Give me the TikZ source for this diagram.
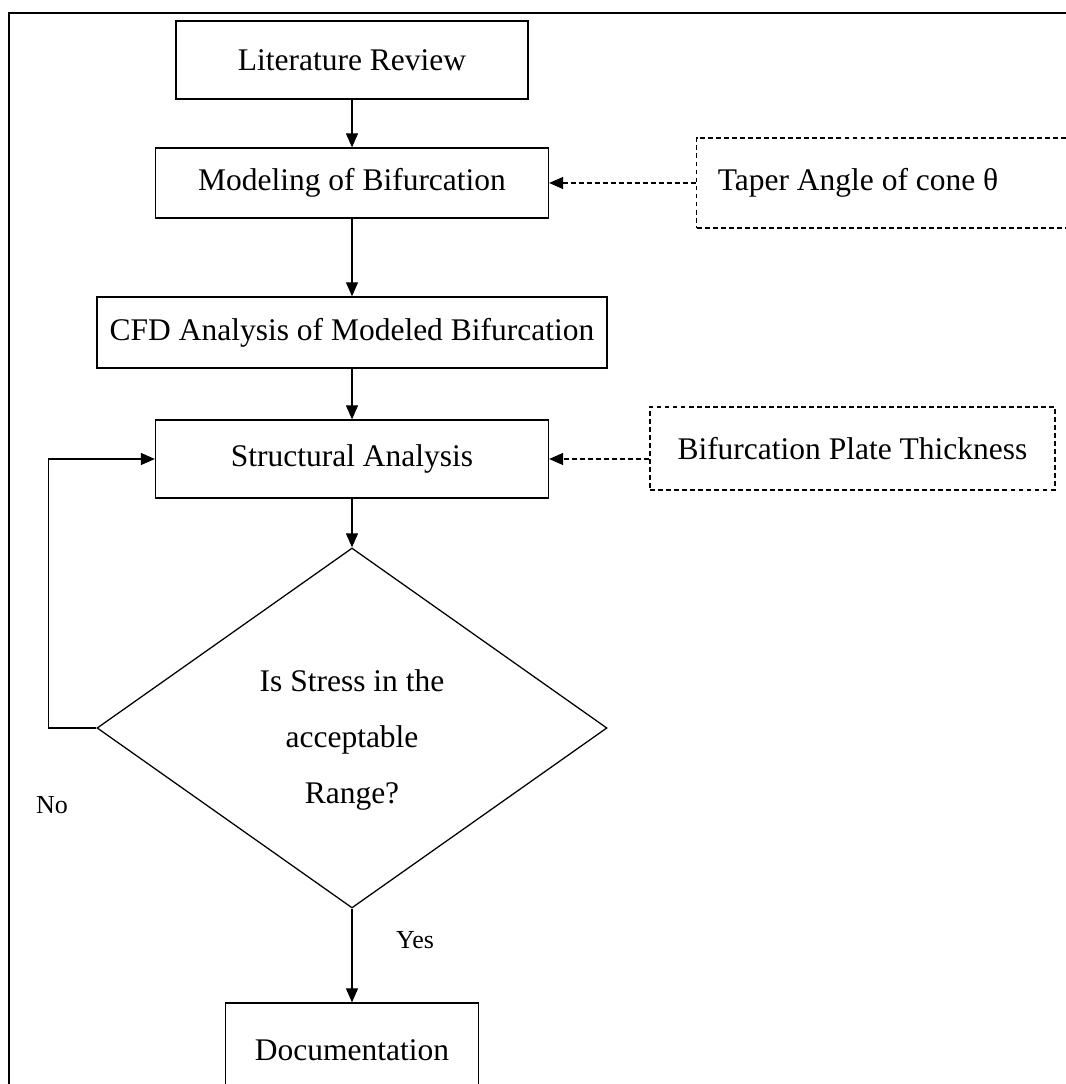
\documentclass[tikz,border=0pt]{standalone}
\usepackage{fontspec}
\setmainfont{Liberation Serif}
\usetikzlibrary{arrows.meta,shapes.geometric}
\tikzset{
    stage/.style={draw, line width=0.9pt, inner sep=0pt, font=\fontsize{22.4}{27}\selectfont},
    param/.style={draw, line width=0.9pt, dash pattern=on 3.5pt off 2.2pt, inner sep=0pt, font=\fontsize{22.4}{27}\selectfont},
    decision/.style={draw, diamond, line width=0.9pt, inner sep=0pt},
    flow/.style={line width=0.9pt, -{Triangle[length=0.35cm,width=0.3cm]}},
    paramflow/.style={flow, dash pattern=on 3.5pt off 2.2pt},
    answer/.style={font=\fontsize{18.5}{22}\selectfont}
}
\begin{document}
\begin{tikzpicture}
        \useasboundingbox (0,0) rectangle (26.65,27.1);
        \clip (0,0) rectangle (26.65,27.1);

        \draw [line width=1.5pt] (27,26.775) -- (0.225,26.775) -- (0.225,-0.5);

        \node (review) at (8.8,25.6) [stage, minimum width=8.8cm, minimum height=1.95cm] {Literature Review};
        \node (model) at (8.8,22.525) [stage, minimum width=9.825cm, minimum height=1.75cm] {Modeling of Bifurcation};
        \node (taper) at (17.4,22.525) [param, anchor=west, minimum width=10cm, minimum height=2.25cm,
            text width=8.94cm, inner xsep=0.53cm, align=flush left] {Taper Angle of cone θ};
        \node (cfd) at (8.8,18.79) [stage, minimum width=12.75cm, minimum height=1.775cm] {CFD Analysis of Modeled Bifurcation};
        \node (struct) at (8.8,15.625) [stage, minimum width=9.825cm, minimum height=1.95cm] {Structural Analysis};
        \node (plate) at (21.31,15.89) [param, minimum width=10.125cm, minimum height=2.075cm] {Bifurcation Plate Thickness};
        \node (check) at (8.8,8.9) [decision, minimum width=12.75cm, minimum height=9cm] {};
        \node (checktext) at (8.8,8.6) [align=center, font=\fontsize{22.4}{39.8}\selectfont] {Is Stress in the\\acceptable\\Range?};
        \node (doc) at (8.8,0.85) [stage, minimum width=6.325cm, minimum height=2.35cm] {Documentation};

        \draw [flow] (review) -- (model);
        \draw [flow] (model) -- (cfd);
        \draw [flow] (cfd) -- (struct);
        \draw [flow] (struct) -- (check);
        \draw [flow] (check) -- (doc);
        \draw [flow] (check.west) -- ++(-1.2,0) |- (struct.west);

        \draw [paramflow] (taper.west) -- (model.east);
        \draw [paramflow] (plate.west |- struct.east) -- (struct.east);

        \node (no) at (1.3,6.975) [answer] {No};
        \node (yes) at (10.375,3.6) [answer] {Yes};
    \end{tikzpicture}
\end{document}
